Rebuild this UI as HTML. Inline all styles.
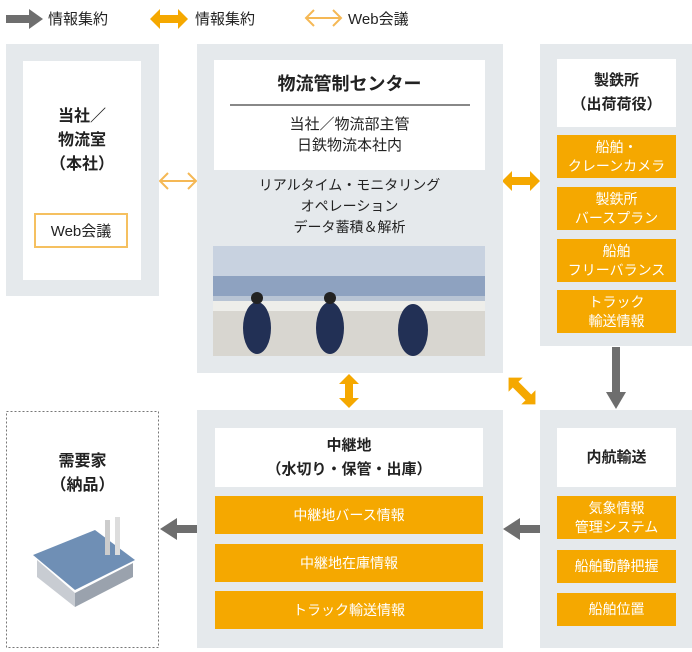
<!DOCTYPE html>
<html><head><meta charset="utf-8"><style>
*{margin:0;padding:0;box-sizing:border-box}
body{width:692px;height:652px;background:#fff;position:relative;overflow:hidden;font-family:"Liberation Sans","Noto Sans CJK JP",sans-serif;color:#222}
.a{position:absolute}
.p{position:absolute;background:#e5e9ec}
.w{position:absolute;background:#fff;display:flex;flex-direction:column;align-items:center;justify-content:center;text-align:center}
.o{position:absolute;background:#f5a800;color:#fff;display:flex;flex-direction:column;align-items:center;justify-content:center;text-align:center;font-size:14px;line-height:19px}
.b{font-weight:bold;font-size:15px;line-height:24px}
.t{font-size:14px;line-height:21px;text-align:center}
</style></head><body>
<svg class="a" style="left:0;top:0" width="692" height="652">
<rect x="6" y="15" width="24" height="8" fill="#6e6e6e"/><polygon points="29,9 43,19 29,29" fill="#6e6e6e"/>
<polygon points="150,19 160,9 160,15 178,15 178,9 188,19 178,29 178,23 160,23 160,29" fill="#f5a800"/>
<g stroke="#f5b855" stroke-width="2" fill="none"><line x1="307" y1="18" x2="340" y2="18"/><polyline points="314,10 306,18 314,26"/><polyline points="333,10 341,18 333,26"/></g>
<g stroke="#f5b855" stroke-width="2" fill="none"><line x1="160" y1="181" x2="196" y2="181"/><polyline points="168,173 160,181 168,189"/><polyline points="188,173 196,181 188,189"/></g>
<polygon points="502,181 512,171 512,177 530,177 530,171 540,181 530,191 530,185 512,185 512,191" fill="#f5a800"/>
<polygon points="349,374 359,384 353,384 353,398 359,398 349,408 339,398 345,398 345,384 339,384" fill="#f5a800"/>
<g transform="translate(522,391) rotate(45)"><polygon points="-19,0 -9,-10 -9,-4 9,-4 9,-10 19,0 9,10 9,4 -9,4 -9,10" fill="#f5a800"/></g>
<rect x="612" y="347" width="8" height="46" fill="#6e6e6e"/><polygon points="606,392 626,392 616,409" fill="#6e6e6e"/>
<rect x="176" y="525" width="21" height="8" fill="#6e6e6e"/><polygon points="177,518 177,540 160,529" fill="#6e6e6e"/>
<rect x="519" y="525" width="21" height="8" fill="#6e6e6e"/><polygon points="520,518 520,540 503,529" fill="#6e6e6e"/>
<rect x="6.5" y="411.5" width="152" height="236" fill="none" stroke="#777" stroke-dasharray="2,2"/>
</svg>
<div class="a" style="left:48px;top:8px;font-size:15px">情報集約</div>
<div class="a" style="left:195px;top:8px;font-size:15px">情報集約</div>
<div class="a" style="left:348px;top:8px;font-size:15px">Web会議</div>

<div class="p" style="left:6px;top:44px;width:153px;height:252px"></div>
<div class="w" style="left:23px;top:61px;width:118px;height:219px;justify-content:flex-start;padding-top:44px"><div class="b" style="font-size:16px">当社／<br>物流室<br>（本社）</div></div>
<div class="a" style="left:34px;top:213px;width:94px;height:35px;border:2px solid #f5c060;display:flex;align-items:center;justify-content:center;font-size:15px">Web会議</div>

<div class="p" style="left:197px;top:44px;width:306px;height:329px"></div>
<div class="w" style="left:214px;top:60px;width:271px;height:110px;justify-content:flex-start">
<div style="font-size:18px;font-weight:bold;margin-top:12px;line-height:24px">物流管制センター</div>
<div style="width:240px;height:2px;background:#888;margin-top:8px"></div>
<div class="t" style="font-size:15px;margin-top:8px">当社／物流部主管<br>日鉄物流本社内</div></div>
<div class="a t" style="left:214px;top:175px;width:271px">リアルタイム・モニタリング<br>オペレーション<br>データ蓄積＆解析</div>
<svg class="a" style="left:213px;top:246px" width="272" height="110">
<rect width="272" height="110" fill="#b8c4d4"/>
<rect width="272" height="45" fill="#c8d2e0"/>
<rect x="0" y="30" width="272" height="20" fill="#8ea2c0"/>
<rect x="0" y="62" width="272" height="48" fill="#d8d6d0"/>
<rect x="0" y="55" width="272" height="10" fill="#eeeeea"/>
<ellipse cx="44" cy="82" rx="14" ry="26" fill="#223055"/><circle cx="44" cy="52" r="6" fill="#222"/>
<ellipse cx="117" cy="82" rx="14" ry="26" fill="#223055"/><circle cx="117" cy="52" r="6" fill="#222"/>
<ellipse cx="200" cy="84" rx="15" ry="26" fill="#223055"/>
</svg>

<div class="p" style="left:540px;top:44px;width:152px;height:302px"></div>
<div class="w" style="left:557px;top:59px;width:119px;height:68px"><div class="b">製鉄所<br>（出荷荷役）</div></div>
<div class="o" style="left:557px;top:135px;width:119px;height:43px">船舶・<br>クレーンカメラ</div>
<div class="o" style="left:557px;top:187px;width:119px;height:43px">製鉄所<br>バースプラン</div>
<div class="o" style="left:557px;top:239px;width:119px;height:43px">船舶<br>フリーバランス</div>
<div class="o" style="left:557px;top:290px;width:119px;height:43px">トラック<br>輸送情報</div>

<div class="a b" style="left:6px;top:450px;width:153px;text-align:center;font-size:16px">需要家<br>（納品）</div>
<svg class="a" style="left:25px;top:515px" width="115" height="95">
<polygon points="8,40 70,15 110,45 50,75" fill="#6f8fb5"/>
<polygon points="12,45 50,78 50,92 12,62" fill="#c8ccd2"/>
<polygon points="50,78 108,48 108,62 50,92" fill="#9aa2ad"/>
<rect x="80" y="5" width="5" height="35" fill="#ccc"/><rect x="90" y="2" width="5" height="38" fill="#ddd"/>
</svg>

<div class="p" style="left:197px;top:410px;width:306px;height:238px"></div>
<div class="w" style="left:215px;top:428px;width:268px;height:59px"><div class="b">中継地<br>（水切り・保管・出庫）</div></div>
<div class="o" style="left:215px;top:496px;width:268px;height:38px">中継地バース情報</div>
<div class="o" style="left:215px;top:544px;width:268px;height:38px">中継地在庫情報</div>
<div class="o" style="left:215px;top:591px;width:268px;height:38px">トラック輸送情報</div>

<div class="p" style="left:540px;top:410px;width:152px;height:238px"></div>
<div class="w" style="left:557px;top:428px;width:119px;height:59px"><div class="b">内航輸送</div></div>
<div class="o" style="left:557px;top:496px;width:119px;height:43px">気象情報<br>管理システム</div>
<div class="o" style="left:557px;top:550px;width:119px;height:33px">船舶動静把握</div>
<div class="o" style="left:557px;top:593px;width:119px;height:33px">船舶位置</div>
</body></html>
